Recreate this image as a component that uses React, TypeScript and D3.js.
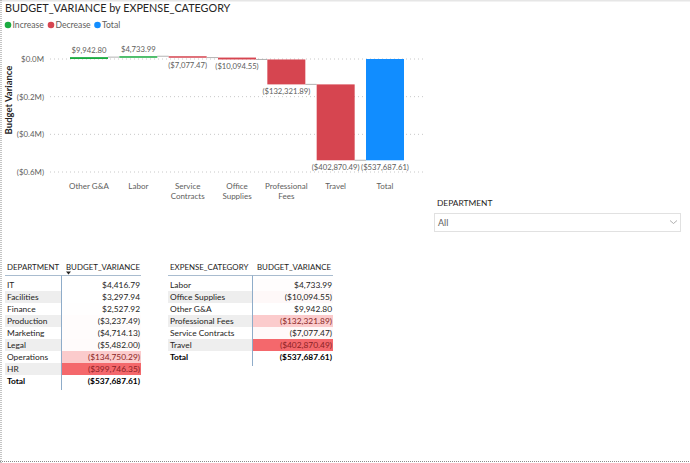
import React from 'react'
import * as d3 from 'd3'

// waterfall: expense categories in display order
const categories = ['Other G&A', 'Labor', 'Service Contracts', 'Office Supplies', 'Professional Fees', 'Travel']
const categoryVariance = [9942.8, 4733.99, -7077.47, -10094.55, -132321.89, -402870.49]
const yTicks = [0, -200000, -400000, -600000]

// department table
const departments = ['IT', 'Facilities', 'Finance', 'Production', 'Marketing', 'Legal', 'Operations', 'HR']
const deptVariance = [4416.79, 3297.94, 2527.92, -3237.49, -4714.13, -5482.0, -134750.29, -399746.35]

// expense category table (alphabetical)
const tableCategories = ['Labor', 'Office Supplies', 'Other G&A', 'Professional Fees', 'Service Contracts', 'Travel']
const tableCategoryVariance = [4733.99, -10094.55, 9942.8, -132321.89, -7077.47, -402870.49]

const slicerOptions = ['All']

const FONT = "Lato, 'Liberation Sans', sans-serif"
const GREEN = '#1AAB40'
const RED = '#D64550'
const BLUE = '#118DFF'

const money = (v: number) => {
  const s = '$' + d3.format(',.2f')(Math.abs(v))
  return v < 0 ? `(${s})` : s
}

const millions = (v: number) => {
  const s = '$' + d3.format('.1f')(Math.abs(v) / 1e6) + 'M'
  return v < 0 ? `(${s})` : s
}

type Step = { name: string; start: number; end: number; kind: 'inc' | 'dec' | 'total'; value: number }

function buildSteps(): Step[] {
  let acc = 0
  const steps: Step[] = categories.map((name, i) => {
    const start = acc
    acc += categoryVariance[i]
    return { name, start, end: acc, kind: categoryVariance[i] >= 0 ? 'inc' : 'dec', value: categoryVariance[i] }
  })
  steps.push({ name: 'Total', start: 0, end: acc, kind: 'total', value: acc })
  return steps
}

function Waterfall() {
  const steps = buildSteps()
  const x = d3
    .scaleBand<string>()
    .domain(steps.map((d) => d.name))
    .range([70, 404])
    .paddingInner(0.23)
  const y = d3.scaleLinear().domain([-600000, 0]).range([172, 59])
  const fill = { inc: GREEN, dec: RED, total: BLUE }

  return (
    <g fontFamily={FONT}>
      <text x={5} y={12} fontSize={10.8} fill="#252423">
        BUDGET_VARIANCE by EXPENSE_CATEGORY
      </text>
      {/* legend */}
      {[
        { label: 'Increase', color: GREEN, x: 8 },
        { label: 'Decrease', color: RED, x: 51 },
        { label: 'Total', color: BLUE, x: 97.5 },
      ].map((l) => (
        <g key={l.label}>
          <circle cx={l.x} cy={25} r={3.3} fill={l.color} />
          <text x={l.x + 4.5} y={28} fontSize={8.6} fill="#605E5C">
            {l.label}
          </text>
        </g>
      ))}

      <text transform="translate(12,100) rotate(-90)" textAnchor="middle" fontSize={9.5} fill="#252423" fontWeight={700}>
        Budget Variance
      </text>

      {yTicks.map((t) => (
        <g key={t}>
          <line x1={50} x2={425} y1={y(t)} y2={y(t)} stroke="#c8c8c8" strokeDasharray="1,3" />
          <text x={44} y={y(t) + 3} textAnchor="end" fontSize={7.9} fill="#605E5C">
            {millions(t)}
          </text>
        </g>
      ))}

      {/* connectors between steps */}
      {steps.slice(0, -1).map((d, i) => (
        <line
          key={'c' + i}
          x1={x(d.name)! + x.bandwidth()}
          x2={x(steps[i + 1].name)!}
          y1={y(d.end)}
          y2={y(d.end)}
          stroke="#a0a0a0"
          strokeWidth={0.8}
        />
      ))}

      {steps.map((d) => {
        const top = y(Math.max(d.start, d.end))
        const bottom = y(Math.min(d.start, d.end))
        const h = Math.max(1.5, bottom - top)
        const cx = x(d.name)! + x.bandwidth() / 2
        const words = d.name.length > 10 ? d.name.split(' ') : [d.name]
        return (
          <g key={d.name}>
            <rect x={x(d.name)} y={top} width={x.bandwidth()} height={h} fill={fill[d.kind]} />
            <text
              x={cx}
              y={d.value >= 0 ? top - 4 : top + h + 10}
              textAnchor="middle"
              fontSize={7.7}
              fill="#605E5C"
            >
              {money(d.value)}
            </text>
            {words.map((w, k) => (
              <text key={k} x={cx} y={189 + k * 10} textAnchor="middle" fontSize={8} fill="#605E5C">
                {w}
              </text>
            ))}
          </g>
        )
      })}
    </g>
  )
}

type TableProps = {
  x0: number
  split: number
  x1: number
  header: string
  labels: string[]
  values: number[]
  sortArrow?: boolean
}

function VarianceTable({ x0, split, x1, header, labels, values, sortArrow }: TableProps) {
  const rowH = 12
  const top = 279
  const lo = d3.min(values)!
  const hi = d3.max(values)!
  const bg = d3.scaleLinear<string>().domain([lo, hi]).range(['#F4686C', '#ffffff']).interpolate(d3.interpolateRgb)
  const total = d3.sum(values)
  const rows = labels.length

  return (
    <g fontFamily={FONT} fontSize={8.4}>
      <text x={x0 + 2} y={270} fill="#252423" fontSize={7.9}>
        {header}
      </text>
      <text x={split + 4} y={270} fill="#252423" fontSize={7.9}>
        BUDGET_VARIANCE
      </text>
      {sortArrow && <path d={`M${split + 4},271.5 h5 l-2.5,3 z`} fill="#252423" />}

      {labels.map((l, i) => {
        const ry = top + i * rowH
        return (
          <g key={l}>
            {i % 2 === 1 && <rect x={x0} y={ry} width={split - x0} height={rowH} fill="#EEEEEE" />}
            <rect x={split} y={ry} width={x1 - split} height={rowH} fill={bg(values[i])} />
            <text x={x0 + 2} y={ry + 9} fill="#252423">
              {l}
            </text>
            <text x={x1 - 1} y={ry + 9} textAnchor="end" fill={values[i] < lo * 0.3 ? '#8a1f24' : '#252423'}>
              {money(values[i])}
            </text>
          </g>
        )
      })}
      <text x={x0 + 2} y={top + rows * rowH + 9} fontWeight={700} fill="#000">
        Total
      </text>
      <text x={x1 - 1} y={top + rows * rowH + 9} textAnchor="end" fontWeight={700} fill="#000">
        {money(total)}
      </text>

      <line x1={x0} x2={x1} y1={275.5} y2={275.5} stroke="#A9BCCF" />
      <line x1={split - 0.5} x2={split - 0.5} y1={275.5} y2={top + (rows + 1) * rowH + 3} stroke="#8FACC9" />
    </g>
  )
}

function Slicer() {
  return (
    <g fontFamily={FONT}>
      <text x={437} y={206} fontSize={8.4} fill="#252423">
        DEPARTMENT
      </text>
      <rect x={434.5} y={213.5} width={246} height={18} fill="#fff" stroke="#E1E1E1" />
      <text x={438} y={225.5} fontSize={9} fill="#605E5C">
        {slicerOptions[0]}
      </text>
      <path d="M670,220.5 l3.5,3 l3.5,-3" fill="none" stroke="#9a9a9a" strokeWidth={0.8} />
    </g>
  )
}

export default function App() {
  return (
    <svg width={690} height={463} style={{ position: 'fixed', left: 0, top: 0, background: '#fff' }}>
      <rect x={0} y={0} width={690} height={1.5} fill="#E6E6E6" />
      <line x1={1} x2={1} y1={0} y2={463} stroke="#8a8a8a" strokeDasharray="1,1" />
      <line x1={0} x2={690} y1={461.5} y2={461.5} stroke="#8a8a8a" strokeDasharray="1,1" />
      <Waterfall />
      <Slicer />
      <VarianceTable
        x0={5}
        split={62}
        x1={141}
        header="DEPARTMENT"
        labels={departments}
        values={deptVariance}
        sortArrow
      />
      <VarianceTable
        x0={168}
        split={253}
        x1={333}
        header="EXPENSE_CATEGORY"
        labels={tableCategories}
        values={tableCategoryVariance}
      />
    </svg>
  )
}
